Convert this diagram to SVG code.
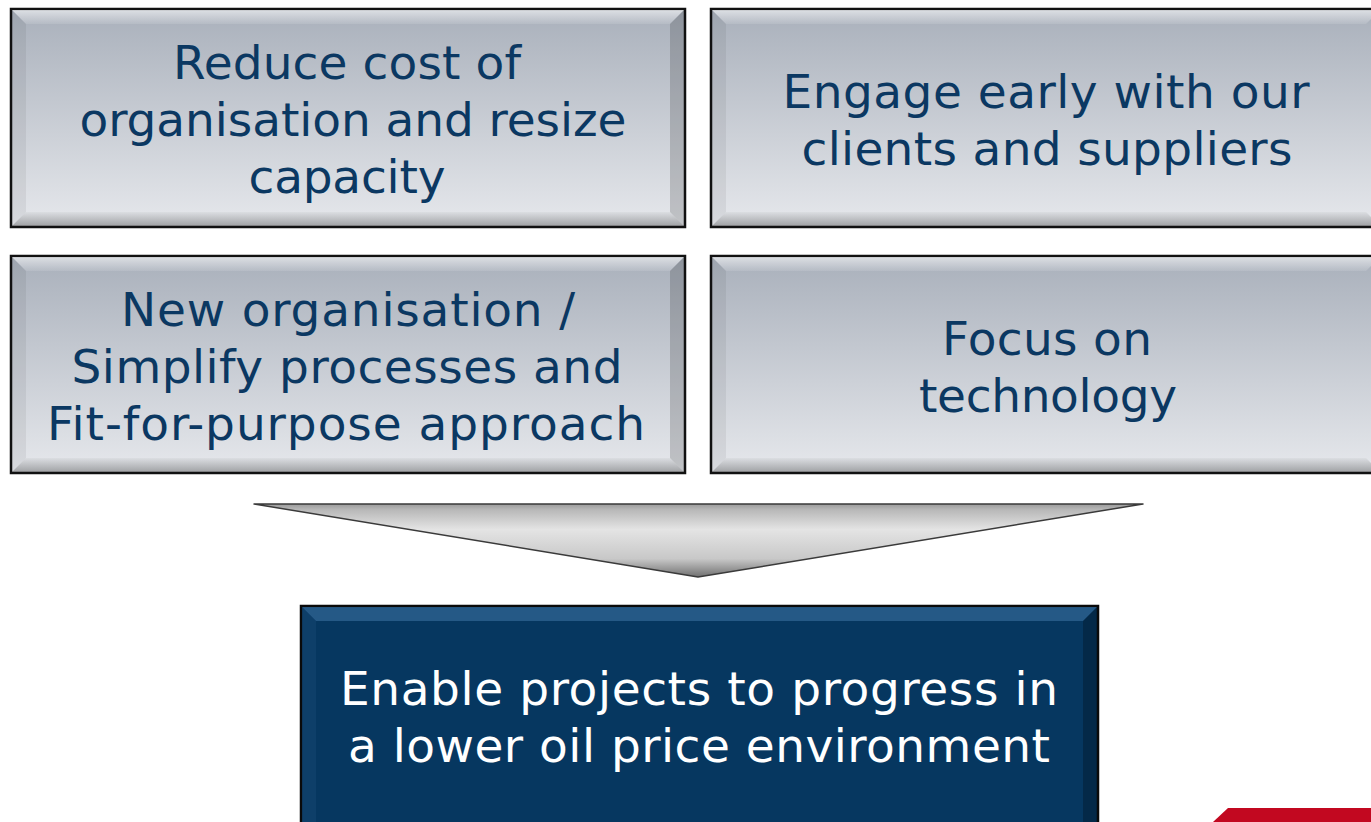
<svg xmlns="http://www.w3.org/2000/svg" width="1371" height="822" viewBox="0 0 1371 822">
<defs>
<linearGradient id="gBox" x1="0" y1="0" x2="0" y2="1">
<stop offset="0" stop-color="#a9b0bb"/>
<stop offset="1" stop-color="#e6e8ec"/>
</linearGradient>
<linearGradient id="gTop" x1="0" y1="0" x2="0" y2="1">
<stop offset="0" stop-color="#ffffff" stop-opacity="0.6"/>
<stop offset="1" stop-color="#ffffff" stop-opacity="0.1"/>
</linearGradient>
<linearGradient id="gBot" x1="0" y1="0" x2="0" y2="1">
<stop offset="0" stop-color="#000000" stop-opacity="0.03"/>
<stop offset="1" stop-color="#000000" stop-opacity="0.3"/>
</linearGradient>
<linearGradient id="gArrow" x1="0" y1="0" x2="0" y2="1">
<stop offset="0" stop-color="#9a9a9a"/>
<stop offset="0.08" stop-color="#b8b8b8"/>
<stop offset="0.35" stop-color="#e4e4e4"/>
<stop offset="0.75" stop-color="#c8c8c8"/>
<stop offset="1" stop-color="#707070"/>
</linearGradient>
<style>
.frame{stroke:#111;stroke-width:2.5}
.bvT{fill:url(#gTop)}
.bvL{fill:#000000;opacity:0.06}
.bvR{fill:#000000;opacity:0.16}
.bvB{fill:url(#gBot)}
.t{font-family:"DejaVu Sans",Verdana,sans-serif;font-size:47px;fill:#0b3862;text-anchor:middle}
.tw{font-family:"DejaVu Sans",Verdana,sans-serif;font-size:47px;fill:#ffffff;text-anchor:middle}
</style>
</defs>
<rect width="1371" height="822" fill="#ffffff"/>

<g id="node1">
<rect x="11" y="9" width="674" height="218" fill="url(#gBox)" class="frame"/>
<polygon class="bvT" points="12,10 684,10 670,24 26,24"/>
<polygon class="bvL" points="12,10 26,24 26,212 12,226"/>
<polygon class="bvR" points="684,10 684,226 670,212 670,24"/>
<polygon class="bvB" points="12,226 684,226 670,212 26,212"/>
<text class="t" x="347" y="79" textLength="348" lengthAdjust="spacing">Reduce cost of</text>
<text class="t" x="353" y="136" textLength="547" lengthAdjust="spacing">organisation and resize</text>
<text class="t" x="347" y="193" textLength="197" lengthAdjust="spacing">capacity</text>
</g>

<g id="node2">
<rect x="711" y="9" width="670" height="218" fill="url(#gBox)" class="frame"/>
<polygon class="bvT" points="712,10 1380,10 1366,24 726,24"/>
<polygon class="bvL" points="712,10 726,24 726,212 712,226"/>
<polygon class="bvB" points="712,226 1380,226 1366,212 726,212"/>
<text class="t" x="1046" y="108" textLength="527" lengthAdjust="spacing">Engage early with our</text>
<text class="t" x="1047" y="165" textLength="491" lengthAdjust="spacing">clients and suppliers</text>
</g>

<g id="node3">
<rect x="11" y="256" width="674" height="217" fill="url(#gBox)" class="frame"/>
<polygon class="bvT" points="12,257 684,257 670,271 26,271"/>
<polygon class="bvL" points="12,257 26,271 26,458 12,472"/>
<polygon class="bvR" points="684,257 684,472 670,458 670,271"/>
<polygon class="bvB" points="12,472 684,472 670,458 26,458"/>
<text class="t" x="348" y="326" textLength="454" lengthAdjust="spacing">New organisation /</text>
<text class="t" x="347" y="383" textLength="551" lengthAdjust="spacing">Simplify processes and</text>
<text class="t" x="346" y="440" textLength="598" lengthAdjust="spacing">Fit-for-purpose approach</text>
</g>

<g id="node4">
<rect x="711" y="256" width="670" height="217" fill="url(#gBox)" class="frame"/>
<polygon class="bvT" points="712,257 1380,257 1366,271 726,271"/>
<polygon class="bvL" points="712,257 726,271 726,458 712,472"/>
<polygon class="bvB" points="712,472 1380,472 1366,458 726,458"/>
<text class="t" x="1047" y="355" textLength="210" lengthAdjust="spacing">Focus on</text>
<text class="t" x="1048" y="412" textLength="258" lengthAdjust="spacing">technology</text>
</g>

<g id="connectors">
<polygon points="254,504 1143,504 698,577" fill="url(#gArrow)" stroke="#3a3a3a" stroke-width="1.5" stroke-linejoin="round"/>
</g>

<g id="node5">
<rect x="301" y="606" width="797" height="230" fill="#063760" stroke="#0a0a0a" stroke-width="2.5"/>
<polygon points="302,607 1097,607 1083,621 316,621" fill="#3a6fa0" opacity="0.6"/>
<polygon points="302,607 316,621 316,835 302,835" fill="#1c4c78" opacity="0.4"/>
<polygon points="1097,607 1097,835 1083,835 1083,621" fill="#000" opacity="0.25"/>
<text class="tw" x="699" y="705" textLength="718" lengthAdjust="spacing">Enable projects to progress in</text>
<text class="tw" x="699" y="762" textLength="702" lengthAdjust="spacing">a lower oil price environment</text>
</g>

<polygon id="accent" points="1228,808 1371,808 1371,822 1213,822" fill="#c20820"/>
</svg>
